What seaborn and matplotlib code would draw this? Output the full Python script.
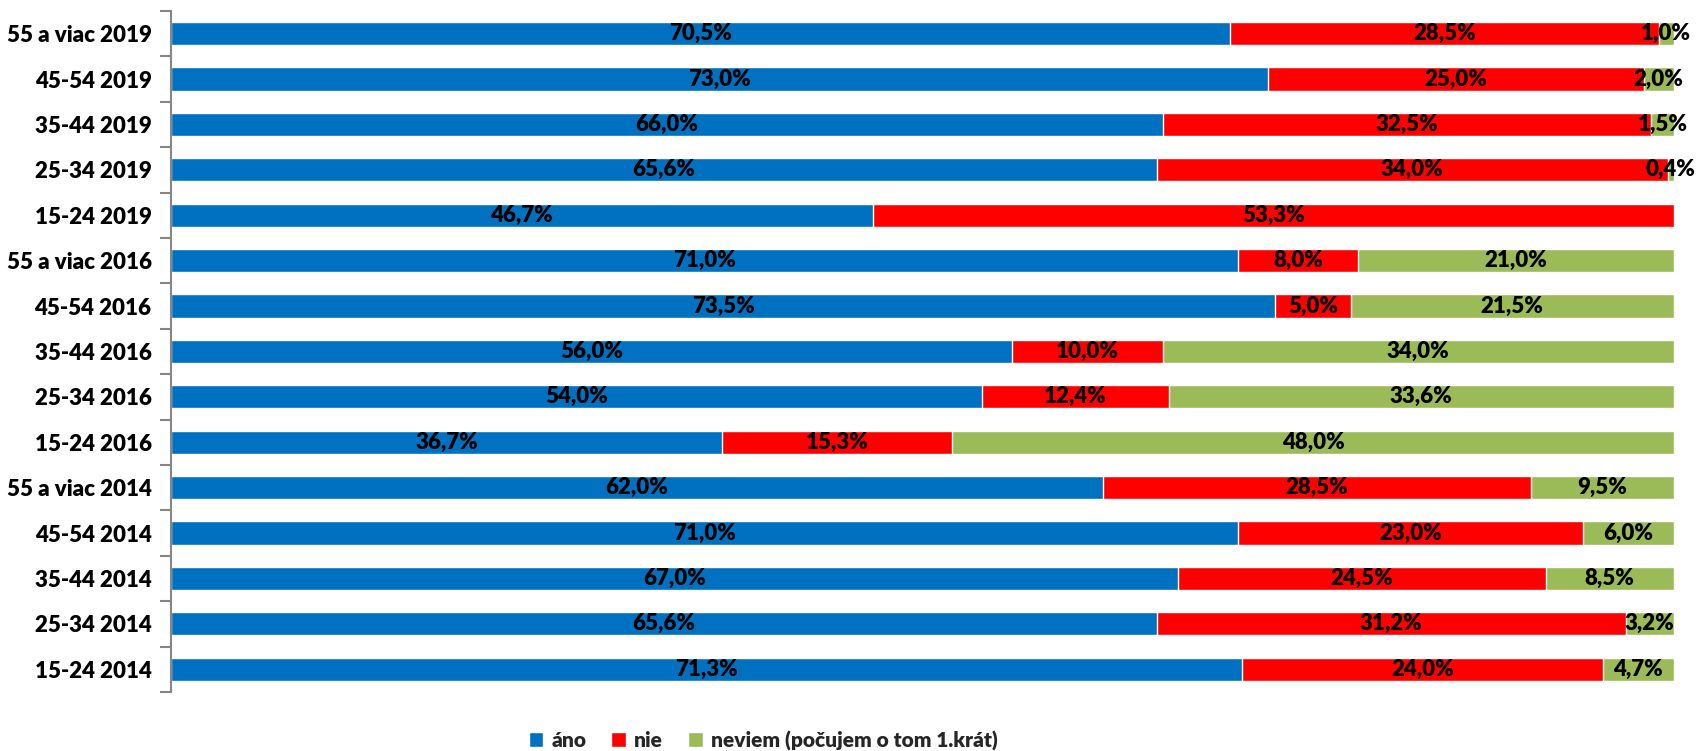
import matplotlib
matplotlib.use("Agg")
import matplotlib.pyplot as plt
import seaborn as sns
import numpy as np
import pandas as pd
from matplotlib.patches import Patch
from matplotlib.ticker import FixedLocator

categories = ["55 a viac 2019", "45-54 2019", "35-44 2019", "25-34 2019", "15-24 2019",
              "55 a viac 2016", "45-54 2016", "35-44 2016", "25-34 2016", "15-24 2016",
              "55 a viac 2014", "45-54 2014", "35-44 2014", "25-34 2014", "15-24 2014"]
ano = [70.5, 73.0, 66.0, 65.6, 46.7, 71.0, 73.5, 56.0, 54.0, 36.7, 62.0, 71.0, 67.0, 65.6, 71.3]
nie = [28.5, 25.0, 32.5, 34.0, 53.3, 8.0, 5.0, 10.0, 12.4, 15.3, 28.5, 23.0, 24.5, 31.2, 24.0]
neviem = [1.0, 2.0, 1.5, 0.4, 0.0, 21.0, 21.5, 34.0, 33.6, 48.0, 9.5, 6.0, 8.5, 3.2, 4.7]
series_names = ["áno", "nie", "neviem (počujem o tom 1.krát)"]
colors = ["#0070C0", "#FF0000", "#9BBB59"]

sns.set_style("white")
plt.rcParams["font.family"] = ["Lato", "DejaVu Sans"]

df = pd.DataFrame({"cat": categories, "ano": ano, "nie": nie, "neviem": neviem})
df["c1"] = df["ano"]
df["c2"] = df["ano"] + df["nie"]
df["c3"] = df["c2"] + df["neviem"]

fig = plt.figure(figsize=(16.96, 7.51), dpi=100)
ax = fig.add_axes([0.1008, 0.0786, 0.886, 0.9068])

for col, color in [("c3", colors[2]), ("c2", colors[1]), ("c1", colors[0])]:
    sns.barplot(data=df, x=col, y="cat", orient="h", color=color, width=0.51,
                saturation=1, ax=ax, order=categories)

fs = 16
fw = "heavy"
starts = [np.zeros(len(df)), df["c1"].values, df["c2"].values]
vals = [df["ano"].values, df["nie"].values, df["neviem"].values]
for s, v in zip(starts, vals):
    for i, (a, b) in enumerate(zip(s, v)):
        if b > 0:
            ax.text(a + b / 2, i, f"{b:.1f}%".replace(".", ","), ha="center", va="center",
                    fontsize=fs, fontweight=fw, color="black")

ax.set_xlim(0, 100)
ax.set_ylim(len(categories) - 0.5, -0.5)
ax.set_xlabel("")
ax.set_ylabel("")
ax.xaxis.set_visible(False)
for sp in ["top", "right", "bottom"]:
    ax.spines[sp].set_visible(False)
ax.spines["left"].set_color("#868686")
ax.spines["left"].set_linewidth(1.5)
ax.set_yticks(range(len(categories)))
ax.set_yticklabels(categories, fontsize=fs, fontweight=fw, color="black")
ax.tick_params(axis="y", which="major", left=True, length=0, pad=14)
ax.yaxis.set_minor_locator(FixedLocator(np.arange(-0.5, len(categories), 1.0)))
ax.tick_params(axis="y", which="minor", left=True, length=8, width=1.5,
               color="#868686", direction="out")

handles = [Patch(facecolor=c, label=n) for c, n in zip(colors, series_names)]
leg = fig.legend(handles=handles, loc="center", bbox_to_anchor=(0.45, 0.014), ncol=3,
                 frameon=False, prop={"size": 15, "weight": fw},
                 handlelength=0.7, handleheight=0.7, handletextpad=0.4, columnspacing=1.2)

fig.savefig("out.png", dpi=100)
